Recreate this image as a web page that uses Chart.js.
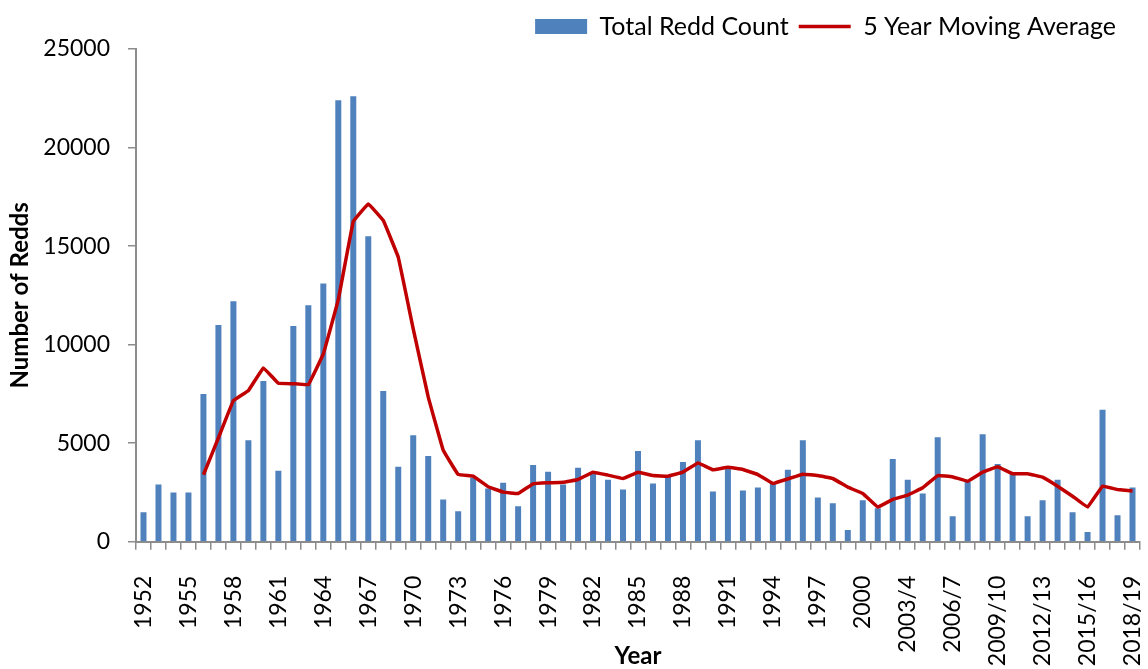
<!DOCTYPE html>
<html>
<head>
<meta charset="utf-8">
<script src="https://cdn.jsdelivr.net/npm/chart.js@4"></script>
<style>
  html, body { margin: 0; padding: 0; background: #fff; }
  #wrap { width: 1148px; height: 669px; }
</style>
</head>
<body>
<div id="wrap"><canvas id="reddChart" width="1148" height="669"></canvas></div>
<script>
// years on the x axis (one bar per season)
const years = [
  '1952','1953','1954','1955','1956','1957','1958','1959','1960','1961',
  '1962','1963','1964','1965','1966','1967','1968','1969','1970','1971',
  '1972','1973','1974','1975','1976','1977','1978','1979','1980','1981',
  '1982','1983','1984','1985','1986','1987','1988','1989','1990','1991',
  '1992','1993','1994','1995','1996','1997','1998','1999','2000','2001/2',
  '2002/3','2003/4','2004/5','2005/6','2006/7','2007/8','2008/9','2009/10','2010/11','2011/12',
  '2012/13','2013/14','2014/15','2015/16','2016/17','2017/18','2018/19'
];

// total redd count
const reddCount = [
  1500, 2900, 2500, 2500, 7500, 11000, 12200, 5150, 8150, 3600,
  10950, 12000, 13100, 22400, 22600, 15500, 7650, 3800, 5400, 4350,
  2150, 1550, 3250, 2700, 3000, 1800, 3900, 3550, 2900, 3750,
  3450, 3150, 2650, 4600, 2950, 3300, 4050, 5150, 2550, 3700,
  2600, 2750, 2950, 3650, 5150, 2250, 1950, 600, 2100, 1700,
  4200, 3150, 2450, 5300, 1300, 3050, 5450, 3950, 3450, 1300,
  2100, 3150, 1500, 500, 6700, 1350, 2750
];

// 5 year moving average (starts at the 5th year)
const movingAvg = [
  null, null, null, null, 3400, 5270, 7160, 7670, 8820, 8040,
  8020, 7970, 9530, 12280, 16250, 17140, 16300, 14440, 10800, 7350,
  4650, 3410, 3330, 2790, 2520, 2450, 2940, 2990, 3020, 3160,
  3530, 3380, 3210, 3530, 3360, 3330, 3530, 4000, 3650, 3780,
  3665, 3410, 2960, 3190, 3430, 3360, 3210, 2770, 2450, 1760,
  2150, 2370, 2740, 3360, 3290, 3070, 3530, 3800, 3450, 3450,
  3280, 2820, 2310, 1760, 2820, 2650, 2570
];

const yTicks = [0, 5000, 10000, 15000, 20000, 25000];

const FONT = 'Lato, "Open Sans", sans-serif';
const AXIS_GREY = '#8c8c8c';

// nudge the legend a bit in from the right edge, like the original
const legendShift = {
  id: 'legendShift',
  afterLayout(chart) {
    if (chart.legend) chart.legend.right -= 22;
  }
};

const ctx = document.getElementById('reddChart').getContext('2d');

const reddChart = new Chart(ctx, {
  type: 'bar',
  data: {
    labels: years,
    datasets: [{
      label: 'Total Redd Count',
      data: reddCount,
      backgroundColor: '#4f81bd',
      borderWidth: 0,
      barPercentage: 0.4,
      categoryPercentage: 1.0,
      pointStyle: 'rect',
      order: 1
    }, {
      type: 'line',
      label: '5 Year Moving Average',
      data: movingAvg,
      borderColor: '#c00000',
      backgroundColor: '#c00000',
      borderWidth: 3.5,
      pointRadius: 0,
      tension: 0.05,
      fill: false,
      pointStyle: 'line',
      order: 0
    }]
  },
  plugins: [legendShift],
  options: {
    responsive: false,
    animation: false,
    layout: {
      padding: { top: 4, right: 0, left: 6, bottom: 0 }
    },
    plugins: {
      tooltip: { enabled: false },
      legend: {
        display: true,
        position: 'top',
        align: 'end',
        labels: {
          usePointStyle: true,
          pointStyleWidth: 52,
          boxHeight: 15,
          color: '#000',
          font: { family: FONT, size: 25 },
          padding: 10,
          sort: (a, b) => a.datasetIndex - b.datasetIndex
        }
      }
    },
    scales: {
      x: {
        offset: true,
        afterFit: function(axis) {
          axis.paddingLeft = 0;
          axis.paddingRight = 8;
        },
        grid: {
          offset: true,
          drawOnChartArea: false,
          drawTicks: true,
          tickLength: 8,
          color: AXIS_GREY,
          lineWidth: 1.5
        },
        border: { color: AXIS_GREY, width: 2 },
        ticks: {
          autoSkip: false,
          maxRotation: 90,
          minRotation: 90,
          padding: 26,
          color: '#000',
          font: { family: FONT, size: 23 },
          callback: function(value, index) {
            return index % 3 === 0 ? years[index] : '';
          }
        },
        title: {
          display: true,
          text: 'Year',
          color: '#000',
          font: { family: FONT, size: 24, weight: 'bold' },
          padding: { top: -50, bottom: -2 }
        }
      },
      y: {
        min: 0,
        max: 25000,
        afterBuildTicks: function(axis) {
          axis.ticks = yTicks.map(v => ({ value: v }));
        },
        afterFit: function(axis) {
          axis.width = 130;
        },
        grid: {
          drawOnChartArea: false,
          drawTicks: true,
          tickLength: 8,
          color: AXIS_GREY,
          lineWidth: 1.5
        },
        border: { color: AXIS_GREY, width: 2 },
        ticks: {
          padding: 18,
          color: '#000',
          font: { family: FONT, size: 23 },
          callback: function(value) {
            return String(value);
          }
        },
        title: {
          display: true,
          text: 'Number of Redds',
          color: '#000',
          font: { family: FONT, size: 24, weight: 'bold' },
          padding: { top: 0, bottom: 14 }
        }
      }
    }
  }
});
</script>
</body>
</html>
